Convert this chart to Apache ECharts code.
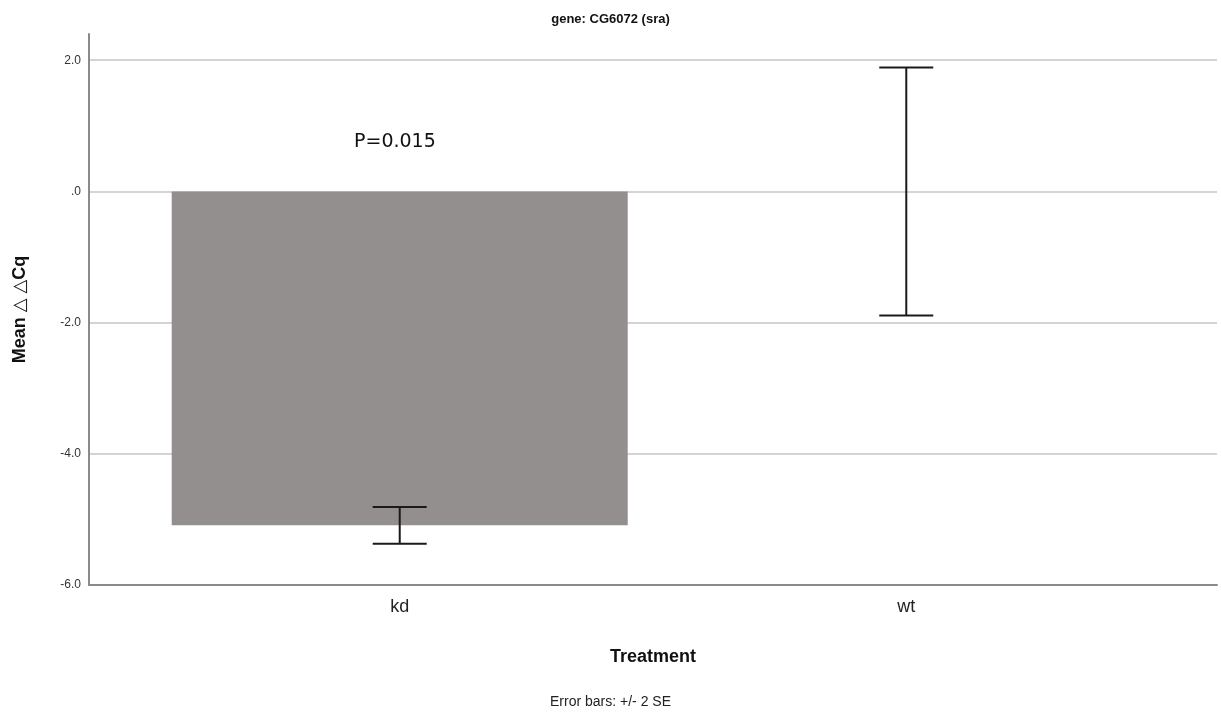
<!DOCTYPE html>
<html>
<head>
<meta charset="utf-8">
<script src="https://cdn.jsdelivr.net/npm/echarts@6/dist/echarts.min.js"></script>
<style>html,body{margin:0;padding:0;background:#fff}#c{width:1221px;height:717px}</style>
</head>
<body>
<div id="c"></div>
<script>
// Data
const categories = ['kd', 'wt'];
const meanValues = [-5.09, 0.0];
const errLow = [-5.37, -1.89];
const errHigh = [-4.81, 1.89];
const yTickValues = [-6, -4, -2, 0, 2];
const yTickLabels = ['-6.0', '-4.0', '-2.0', '.0', '2.0'];
const titleText = 'gene: CG6072 (sra)';
const pValueText = 'P=0.015';
const footnote = 'Error bars: +/- 2 SE';

const chart = echarts.init(document.getElementById('c'), null, {renderer: 'canvas'});

const barData = categories.map((c, i) => [i, meanValues[i]]);
const errData = categories.map((c, i) => [i, errLow[i], errHigh[i]]);

const option = {
  animation: false,
  backgroundColor: '#ffffff',
  title: [
    {text: titleText, left: 'center', top: 8,
     textStyle: {fontFamily: 'Liberation Sans, Arial, sans-serif', fontSize: 13, fontWeight: 'bold', color: '#111'}},
    {text: footnote, left: 'center', top: 690,
     textStyle: {fontFamily: 'Liberation Sans, Arial, sans-serif', fontSize: 14, fontWeight: 'normal', color: '#222'}}
  ],
  graphic: [
    {type: 'text', left: 354, top: 133,
     style: {text: pValueText, font: '19px "DejaVu Sans", sans-serif', fill: '#111'}}
  ],
  grid: {left: 89, right: 4, top: 34, bottom: 132, containLabel: false},
  xAxis: {
    type: 'value',
    min: -0.6134, max: 1.6134,
    name: 'Treatment', nameLocation: 'middle', nameGap: 63,
    nameTextStyle: {fontFamily: 'Liberation Sans, Arial, sans-serif', fontSize: 18, fontWeight: 'bold', color: '#111'},
    axisLine: {show: true, onZero: false, lineStyle: {color: '#8a8a8a', width: 2}},
    axisTick: {show: false, customValues: [0, 1]},
    splitLine: {show: false},
    axisLabel: {customValues: [0, 1], margin: 13,
      formatter: v => categories[Math.round(v)],
      fontFamily: 'Liberation Sans, Arial, sans-serif', fontSize: 18, color: '#222'}
  },
  yAxis: {
    type: 'value',
    min: -6, max: 2.4,
    name: 'Mean \u25B3 \u25B3Cq', nameLocation: 'middle', nameGap: 60, nameRotate: 90,
    nameTextStyle: {fontFamily: 'Liberation Sans, DejaVu Sans, sans-serif', fontSize: 18, fontWeight: 'bold', color: '#111'},
    axisLine: {show: true, onZero: false, lineStyle: {color: '#8a8a8a', width: 2}},
    axisTick: {show: false, customValues: yTickValues},
    splitLine: {show: true, lineStyle: {color: '#d4d4d4', width: 2}},
    axisLabel: {customValues: yTickValues, margin: 8,
      formatter: v => yTickLabels[yTickValues.indexOf(v)],
      fontFamily: 'Liberation Sans, Arial, sans-serif', fontSize: 12, color: '#333'}
  },
  series: [
    {
      type: 'bar',
      data: barData,
      barWidth: 456,
      itemStyle: {color: '#938f8e'},
      z: 2
    },
    {
      type: 'custom',
      data: errData,
      z: 3,
      renderItem: function (params, api) {
        const x = api.value(0);
        const lo = api.coord([x, api.value(1)]);
        const hi = api.coord([x, api.value(2)]);
        const hw = 27;
        const style = {stroke: '#1a1a1a', lineWidth: 2};
        return {
          type: 'group',
          children: [
            {type: 'line', shape: {x1: lo[0], y1: lo[1], x2: hi[0], y2: hi[1]}, style: style},
            {type: 'line', shape: {x1: lo[0] - hw, y1: lo[1], x2: lo[0] + hw, y2: lo[1]}, style: style},
            {type: 'line', shape: {x1: hi[0] - hw, y1: hi[1], x2: hi[0] + hw, y2: hi[1]}, style: style}
          ]
        };
      }
    }
  ]
};
chart.setOption(option);
</script>
</body>
</html>
